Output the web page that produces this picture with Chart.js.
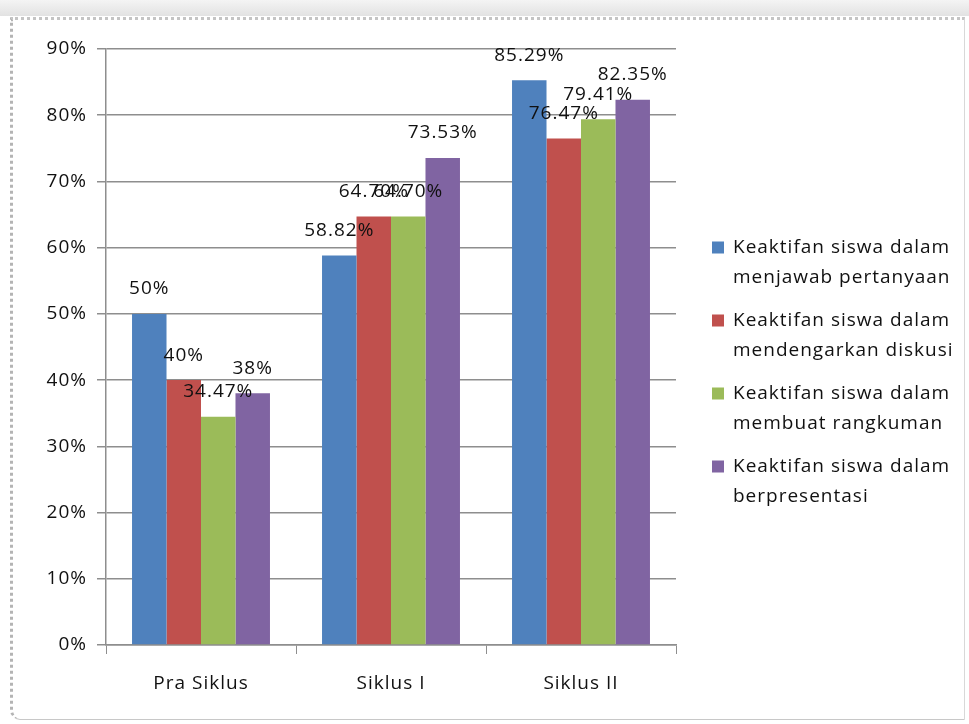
<!DOCTYPE html>
<html>
<head>
<meta charset="utf-8">
<script src="https://cdn.jsdelivr.net/npm/chart.js@4.4.1/dist/chart.umd.min.js"></script>
<style>
  html, body { margin: 0; padding: 0; background: #fff; }
  body { width: 969px; height: 724px; position: relative; overflow: hidden; }
  .topbar { position: absolute; left: 0; top: 0; width: 969px; height: 16px;
            background: linear-gradient(#f4f4f4, #e2e2e2); }
  .frame { position: absolute; left: 10px; top: 17px; width: 955px; height: 703px;
           border-left: 3px dotted #b4b4b4; border-top: 3px dotted #c4c4c4;
           border-bottom: 1px solid #c8c8c8; border-right: 1px solid #d8d8d8;
           border-bottom-left-radius: 10px; box-sizing: border-box; background: #fff; }
  .chart-box { position: absolute; left: 13px; top: 19px; width: 951px; height: 700px; }
</style>
</head>
<body>
<div class="topbar"></div>
<div class="frame"></div>
<div class="chart-box"><canvas id="chart"></canvas></div>
<script>
const categories = ['Pra Siklus', 'Siklus I', 'Siklus II'];
const seriesNames = [
    'Keaktifan siswa dalam menjawab pertanyaan',
    'Keaktifan siswa dalam mendengarkan diskusi',
    'Keaktifan siswa dalam membuat rangkuman',
    'Keaktifan siswa dalam berpresentasi'
];
const menjawab = [50, 58.82, 85.29];
const mendengarkan = [40, 64.70, 76.47];
const rangkuman = [34.47, 64.70, 79.41];
const presentasi = [38, 73.53, 82.35];
const menjawabLabels = ['50%', '58.82%', '85.29%'];
const mendengarkanLabels = ['40%', '64.70%', '76.47%'];
const rangkumanLabels = ['34.47%', '64.70%', '79.41%'];
const presentasiLabels = ['38%', '73.53%', '82.35%'];
const colors = ['#4F81BD', '#C0504D', '#9BBB59', '#8064A2'];

const FONT = '"Open Sans"';
const FONT_SIZE = 19;
const SPACING = '1px';
const textColor = '#111';
const lineColor = '#8e8e8e';

const seriesValues = [menjawab, mendengarkan, rangkuman, presentasi];
const seriesLabels = [menjawabLabels, mendengarkanLabels, rangkumanLabels, presentasiLabels];

// the original text is a little wider, so space the letters out
const spacing = {
    id: 'spacing',
    beforeDraw(chart) {
        chart.ctx.letterSpacing = SPACING;
    }
};

// value labels above each bar
const barLabels = {
    id: 'barLabels',
    afterDatasetsDraw(chart) {
        const ctx = chart.ctx;
        ctx.save();
        ctx.letterSpacing = SPACING;
        ctx.font = FONT_SIZE + 'px ' + FONT;
        ctx.fillStyle = textColor;
        ctx.textAlign = 'center';
        ctx.textBaseline = 'middle';
        chart.data.datasets.forEach((ds, i) => {
            chart.getDatasetMeta(i).data.forEach((bar, j) => {
                ctx.fillText(seriesLabels[i][j], bar.x, bar.y - 25);
            });
        });
        ctx.restore();
    }
};

// legend on the right, two lines per entry
const sideLegend = {
    id: 'sideLegend',
    afterDraw(chart) {
        const ctx = chart.ctx;
        const area = chart.chartArea;
        const step = 73, lineH = 30;
        const top = chart.height / 2 - (step * 3 + lineH) / 2 + 3;
        ctx.save();
        ctx.letterSpacing = SPACING;
        ctx.font = FONT_SIZE + 'px ' + FONT;
        ctx.textBaseline = 'middle';
        ctx.textAlign = 'left';
        chart.data.datasets.forEach((ds, i) => {
            const y = top + i * step;
            ctx.fillStyle = ds.backgroundColor;
            ctx.fillRect(area.right + 36, y - 6, 12, 12);
            const parts = ds.label.split(' dalam ');
            ctx.fillStyle = textColor;
            ctx.fillText(parts[0] + ' dalam', area.right + 57, y);
            ctx.fillText(parts[1], area.right + 57, y + lineH);
        });
        ctx.restore();
    }
};

const datasets = seriesNames.map((name, i) => ({
    label: name,
    data: seriesValues[i],
    backgroundColor: colors[i],
    borderWidth: 0,
    barPercentage: 1,
    categoryPercentage: 0.726
}));

new Chart(document.getElementById('chart'), {
    type: 'bar',
    data: { labels: categories, datasets: datasets },
    options: {
        responsive: true,
        maintainAspectRatio: false,
        animation: false,
        layout: { padding: { left: 0, top: 30, right: 288, bottom: 0 } },
        plugins: {
            legend: { display: false },
            tooltip: { enabled: false }
        },
        scales: {
            x: {
                afterFit: s => { s.height = 74; },
                grid: { display: true, drawOnChartArea: false, color: lineColor, tickLength: 9, offset: true },
                border: { color: lineColor, width: 1.5 },
                ticks: { color: textColor, font: { family: FONT, size: FONT_SIZE }, padding: 18 }
            },
            y: {
                min: 0,
                max: 90,
                afterFit: s => { s.width = 93; },
                grid: { color: lineColor, lineWidth: 1.5, tickLength: 9 },
                border: { color: lineColor, width: 1.5 },
                ticks: {
                    stepSize: 10,
                    color: textColor,
                    font: { family: FONT, size: FONT_SIZE },
                    padding: 10,
                    callback: v => v + '%'
                }
            }
        }
    },
    plugins: [spacing, barLabels, sideLegend]
});
</script>
</body>
</html>
